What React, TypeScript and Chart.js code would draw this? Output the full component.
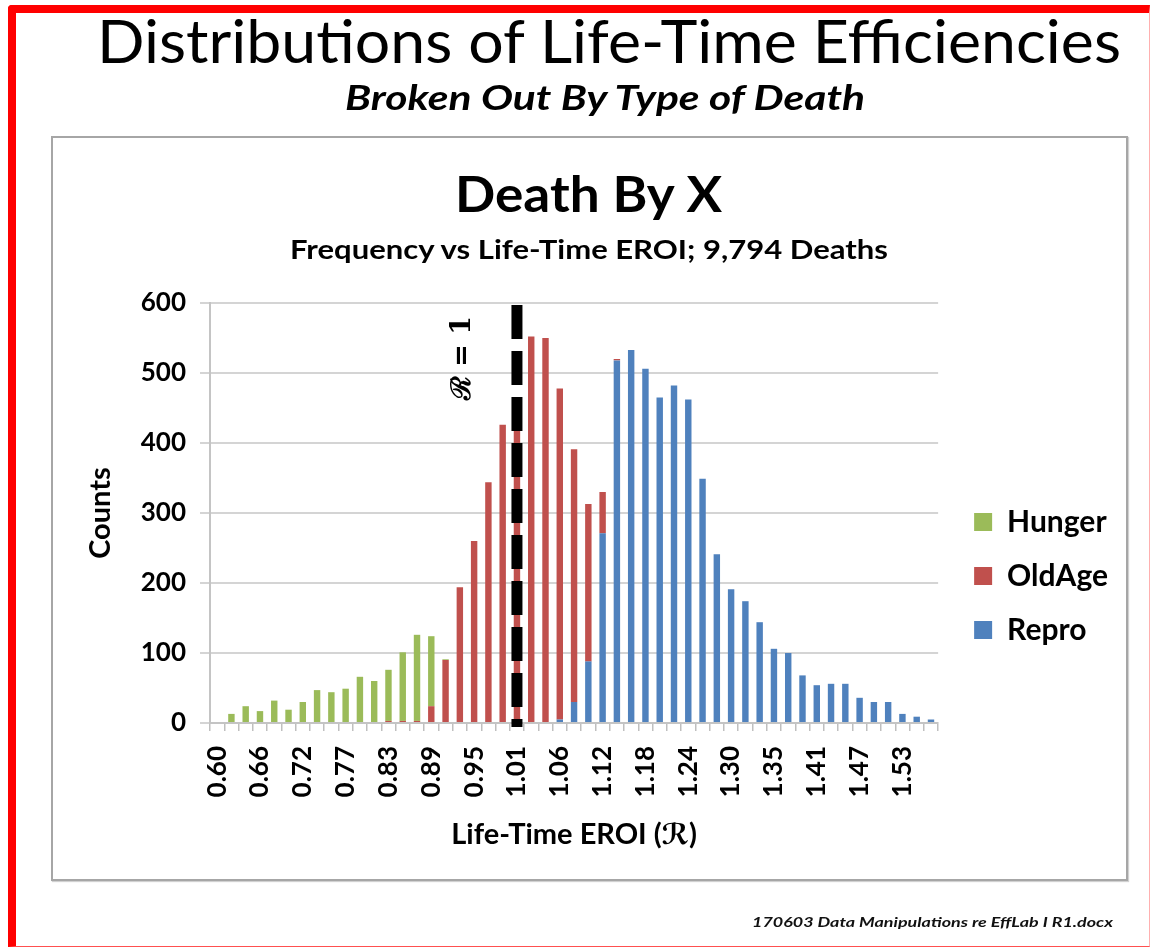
import React, { useEffect, useRef } from "react";
import { Chart, registerables } from "chart.js";

Chart.register(...registerables);

// ---------- DATA ----------
const categories: string[] = [
  "0.60", "0.62", "0.64", "0.66", "0.68", "0.70", "0.72", "0.74", "0.76", "0.77",
  "0.79", "0.81", "0.83", "0.85", "0.87", "0.89", "0.91", "0.93", "0.95", "0.97",
  "0.99", "1.01", "1.03", "1.05", "1.06", "1.08", "1.10", "1.12", "1.14", "1.16",
  "1.18", "1.20", "1.22", "1.24", "1.26", "1.28", "1.30", "1.32", "1.34", "1.35",
  "1.38", "1.39", "1.41", "1.43", "1.45", "1.47", "1.49", "1.51", "1.53", "1.55",
  "1.57",
];

const hunger: number[] = [
  0, 13, 24, 17, 32, 19, 30, 47, 44, 49,
  66, 60, 73, 98, 123, 100, 1, 0, 0, 0,
  0, 0, 0, 0, 0, 0, 0, 0, 0, 0,
  0, 0, 0, 0, 0, 0, 0, 0, 0, 0,
  0, 0, 0, 0, 0, 0, 0, 0, 0, 0,
  0,
];

const oldAge: number[] = [
  0, 0, 0, 0, 0, 0, 0, 0, 0, 0,
  0, 0, 3, 3, 3, 24, 90, 194, 260, 344,
  426, 420, 552, 550, 473, 361, 225, 59, 2, 0,
  0, 0, 0, 0, 0, 0, 0, 0, 0, 0,
  0, 0, 0, 0, 0, 0, 0, 0, 0, 0,
  0,
];

const repro: number[] = [
  0, 0, 0, 0, 0, 0, 0, 0, 0, 0,
  0, 0, 0, 0, 0, 0, 0, 0, 0, 0,
  0, 0, 0, 0, 5, 30, 88, 271, 518, 533,
  506, 465, 482, 462, 349, 241, 191, 174, 144, 106,
  100, 68, 54, 56, 56, 36, 30, 30, 13, 9,
  5,
];

const seriesNames = ["Hunger", "OldAge", "Repro"];
const seriesColors = ["#9BBB59", "#C0504D", "#4F81BD"];
const yTickValues: number[] = [0, 100, 200, 300, 400, 500, 600];
const labelEvery = 3;
const referenceCategory = "1.01";
const referenceText = "ℛ = 1";

const pageTitle = "Distributions of Life-Time Efficiencies";
const pageSubtitle = "Broken Out By Type of Death";
const chartTitle = "Death By X";
const chartSubtitle = "Frequency vs Life-Time EROI; 9,794 Deaths";
const xTitle = "Life-Time EROI (ℛ)";
const yTitle = "Counts";
const footnote = "170603 Data Manipulations re EffLab I R1.docx";

const FONT = "Lato, 'Open Sans', 'DejaVu Sans', sans-serif";

const refLinePlugin = {
  id: "refLine",
  afterDatasetsDraw(chart: any) {
    const { ctx, chartArea, scales } = chart;
    const idx = categories.indexOf(referenceCategory);
    const x = scales.x.getPixelForValue(idx);
    ctx.save();
    ctx.strokeStyle = "#000";
    ctx.lineWidth = 11;
    ctx.lineCap = "butt";
    ctx.setLineDash([34, 12]);
    ctx.beginPath();
    ctx.moveTo(x, chartArea.top + 2);
    ctx.lineTo(x, chartArea.bottom + 4);
    ctx.stroke();
    ctx.setLineDash([]);
    ctx.translate(x - 54, chartArea.top + 55);
    ctx.rotate(-Math.PI / 2);
    ctx.font = "bold 27px 'DejaVu Serif', serif";
    ctx.textAlign = "center";
    ctx.textBaseline = "middle";
    ctx.fillStyle = "#000";
    ctx.fillText(referenceText, 0, 0);
    ctx.restore();
  },
};

export default function App() {
  const canvasRef = useRef<HTMLCanvasElement | null>(null);

  useEffect(() => {
    if (!canvasRef.current) return;
    const stackSeries = [repro, oldAge, hunger];
    const stackIdx = [2, 1, 0];
    const chart = new Chart(canvasRef.current, {
      type: "bar",
      data: {
        labels: categories,
        datasets: stackSeries.map((d, k) => ({
          label: seriesNames[stackIdx[k]],
          data: d,
          backgroundColor: seriesColors[stackIdx[k]],
          borderWidth: 0,
          barPercentage: 0.45,
          categoryPercentage: 1.0,
        })),
      },
      options: {
        responsive: false,
        animation: false,
        devicePixelRatio: 1,
        layout: { padding: { top: 30, bottom: 30, left: 0, right: 8 } },
        plugins: {
          legend: {
            position: "right",
            reverse: true,
            labels: {
              boxWidth: 18,
              boxHeight: 18,
              padding: 24,
              color: "#000",
              font: { family: FONT, size: 30, weight: "bold" },
            },
          },
          tooltip: { enabled: false },
          title: { display: false },
        },
        scales: {
          x: {
            stacked: true,
            grid: {
              drawOnChartArea: false,
              drawTicks: true,
              tickLength: 8,
              color: "#bfbfbf",
              lineWidth: 1.5,
            },
            border: { display: true, color: "#c4c4c4", width: 2 },
            ticks: {
              autoSkip: false,
              minRotation: 90,
              maxRotation: 90,
              padding: 15,
              color: "#000",
              font: { family: FONT, size: 26, weight: "bold" },
              callback: (_v: any, i: number) => (i % labelEvery === 0 ? categories[i] : ""),
            },
            title: {
              display: true,
              text: xTitle,
              color: "#000",
              font: { family: FONT, size: 29, weight: "bold" },
              padding: { top: 0, bottom: -3 },
            },
            afterFit: (s: any) => {
              s.height = 126;
            },
          },
          y: {
            stacked: true,
            min: yTickValues[0],
            max: yTickValues[yTickValues.length - 1],
            afterBuildTicks: (s: any) => {
              s.ticks = yTickValues.map((v) => ({ value: v }));
            },
            ticks: {
              padding: 14,
              color: "#000",
              font: { family: FONT, size: 26, weight: "bold" },
            },
            grid: { color: "#d4d4d4", lineWidth: 2, tickLength: 10 },
            border: { display: true, color: "#c4c4c4", width: 2 },
            title: {
              display: true,
              text: yTitle,
              color: "#000",
              font: { family: FONT, size: 29, weight: "bold" },
              padding: { top: 30, bottom: 0 },
            },
            afterFit: (s: any) => {
              s.width = 157;
            },
          },
          gap: {
            type: "linear",
            position: "right",
            display: true,
            grid: { display: false, drawTicks: false },
            border: { display: false },
            ticks: { display: false },
            afterFit: (s: any) => {
              s.width = 12;
            },
          },
        },
      } as any,
      plugins: [refLinePlugin],
    });
    return () => chart.destroy();
  }, []);

  return (
    <div
      style={{
        position: "absolute",
        left: 0,
        top: 0,
        width: 1150,
        height: 947,
        background: "#fff",
        overflow: "hidden",
      }}
    >
      <div
        style={{
          position: "absolute",
          left: 8,
          top: 5,
          width: 1142,
          height: 942,
          boxSizing: "border-box",
          borderTop: "8px solid #ff0000",
          borderLeft: "8px solid #ff0000",
          borderRight: "1px solid #ffb0b0",
          borderBottom: "1.5px solid #ff5050",
          borderTopLeftRadius: 4,
        }}
      />
      <div
        style={{
          position: "absolute",
          left: 51,
          top: 136,
          width: 1077,
          height: 745,
          boxSizing: "border-box",
          border: "2px solid #a6a6a6",
          boxShadow: "1px 1px 1px rgba(0,0,0,0.18)",
        }}
      />
      <canvas
        ref={canvasRef}
        width={1073}
        height={606}
        style={{ position: "absolute", left: 53, top: 273 }}
      />
      <svg
        width={1150}
        height={947}
        style={{ position: "absolute", left: 0, top: 0, pointerEvents: "none" }}
      >
        <text x={97} y={63} fontFamily={FONT} fontSize={60} fontWeight={400} fill="#000"
          textLength={1024} lengthAdjust="spacingAndGlyphs">{pageTitle}</text>
        <text x={345} y={110} fontFamily={FONT} fontSize={34} fontWeight={700} fontStyle="italic" fill="#000"
          textLength={520} lengthAdjust="spacingAndGlyphs">{pageSubtitle}</text>
        <text x={455} y={212} fontFamily={FONT} fontSize={50} fontWeight={700} fill="#000"
          textLength={267} lengthAdjust="spacingAndGlyphs">{chartTitle}</text>
        <text x={290} y={259} fontFamily={FONT} fontSize={26} fontWeight={700} fill="#000"
          textLength={598} lengthAdjust="spacingAndGlyphs">{chartSubtitle}</text>
        <text x={752} y={927} fontFamily={FONT} fontSize={14} fontWeight={700} fontStyle="italic" fill="#111"
          textLength={361} lengthAdjust="spacingAndGlyphs">{footnote}</text>
      </svg>
    </div>
  );
}
